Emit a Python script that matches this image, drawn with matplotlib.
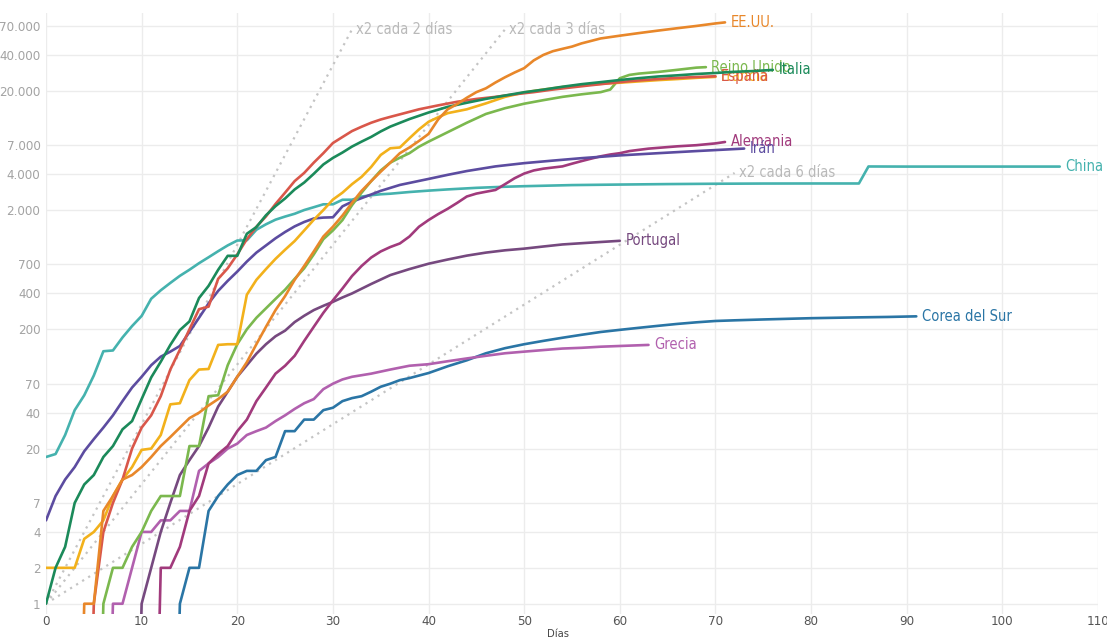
import numpy as np
import matplotlib
matplotlib.use("Agg")
import matplotlib.pyplot as plt

plt.rcParams['font.family'] = ['DejaVu Sans']
plt.rcParams['font.stretch'] = 'condensed'

# muertes acumuladas por país (eje x: días)
dias_china = [0, 1, 2, 3, 4, 5, 6, 7, 8, 9, 10, 11, 12, 13, 14, 15, 16, 17, 18, 19, 20, 21, 22, 23, 24, 25,
              26, 27, 28, 29, 30, 31, 32, 33, 34, 35, 36, 38, 40, 42, 45, 48, 50, 55, 60, 65, 70, 75, 80, 85,
              86, 90, 95, 100, 106]
muertes_china = [17, 18, 26, 42, 56, 82, 131, 133, 171, 213, 259, 361, 425, 490, 562, 632, 717, 804, 904, 1011,
                 1111, 1116, 1368, 1520, 1662, 1765, 1863, 2002, 2114, 2236, 2236, 2441, 2443, 2593, 2663, 2715,
                 2744, 2835, 2912, 2981, 3073, 3139, 3172, 3241, 3274, 3304, 3326, 3339, 3343, 3343,
                 4642, 4632, 4633, 4633, 4633]

dias_italia = [0, 1, 2, 3, 4, 5, 6, 7, 8, 9, 10, 11, 12, 13, 14, 15, 16, 17, 18, 19, 20, 21, 22, 23, 24, 25,
               26, 27, 28, 29, 30, 31, 32, 33, 34, 35, 36, 38, 40, 42, 44, 46, 48, 50, 52, 54, 56, 58, 60, 62,
               64, 66, 68, 70, 72, 74, 76]
muertes_italia = [1, 2, 3, 7, 10, 12, 17, 21, 29, 34, 52, 79, 107, 148, 197, 233, 366, 463, 631, 827, 827, 1266,
                  1441, 1809, 2158, 2503, 2978, 3405, 4032, 4825, 5476, 6077, 6820, 7503, 8215, 9134, 10023,
                  11591, 13155, 14681, 15887, 17127, 18279, 19468, 20465, 21645, 22745, 23660, 24648, 25549,
                  26384, 26977, 27682, 28236, 28884, 29315, 29958]

dias_iran = [0, 1, 2, 3, 4, 5, 6, 7, 8, 9, 10, 11, 12, 13, 14, 15, 16, 17, 18, 19, 20, 21, 22, 23, 24, 25, 26,
             27, 28, 29, 30, 31, 32, 33, 35, 37, 40, 42, 44, 47, 50, 53, 56, 60, 64, 68, 73]
muertes_iran = [5, 8, 11, 14, 19, 24, 30, 38, 50, 65, 80, 100, 118, 130, 145, 190, 250, 330, 420, 510, 610, 740,
                880, 1010, 1160, 1310, 1460, 1590, 1700, 1730, 1740, 2150, 2350, 2520, 2900, 3250, 3650, 3950,
                4250, 4650, 4950, 5200, 5450, 5750, 6000, 6250, 6560]

dias_eeuu = [3, 4, 5, 6, 7, 8, 9, 10, 11, 12, 13, 14, 15, 16, 17, 18, 19, 20, 21, 22, 23, 24, 25, 26, 27, 28,
             29, 30, 31, 32, 33, 34, 35, 36, 37, 38, 39, 40, 41, 42, 43, 44, 45, 46, 47, 48, 49, 50, 51, 52,
             53, 54, 55, 56, 58, 60, 62, 64, 66, 68, 70, 71]
muertes_eeuu = [0, 1, 1, 6, 8, 11, 12, 14, 17, 21, 25, 30, 36, 40, 46, 52, 60, 80, 106, 150, 210, 290, 380, 520,
                680, 900, 1200, 1450, 1800, 2300, 2900, 3500, 4200, 5000, 6000, 6700, 7600, 8700, 11500,
                14000, 15500, 17500, 19500, 21000, 23500, 26000, 28500, 31000, 36000, 40000, 43000, 45000,
                47000, 50000, 55000, 58000, 61000, 64000, 67000, 70000, 73500, 75000]

dias_espana = [4, 5, 6, 7, 8, 9, 10, 11, 12, 13, 14, 15, 16, 17, 18, 19, 20, 21, 22, 23, 24, 25, 26, 27, 28, 29,
               30, 31, 32, 33, 34, 35, 36, 37, 39, 41, 43, 45, 47, 49, 51, 53, 55, 57, 59, 61, 63, 65, 67, 69, 70]
muertes_espana = [0, 1, 4, 7, 11, 20, 30, 38, 55, 92, 135, 200, 295, 310, 530, 650, 850, 1140, 1450, 1770, 2250,
                  2800, 3500, 4100, 5000, 6000, 7300, 8200, 9200, 10000, 10800, 11500, 12100, 12700, 14000,
                  15100, 16200, 17100, 17800, 18700, 19500, 20500, 21400, 22300, 23200, 24100, 24800, 25400,
                  25900, 26300, 26500]

dias_francia = [0, 1, 2, 3, 4, 5, 6, 7, 8, 9, 10, 11, 12, 13, 14, 15, 16, 17, 18, 19, 20, 21, 22, 23, 24, 25,
                26, 27, 28, 29, 30, 31, 32, 33, 34, 35, 36, 37, 38, 39, 40, 41, 42, 44, 46, 48, 50, 52, 54, 56,
                58, 60, 62, 64, 66, 68, 70]
muertes_francia = [2, 2, 2, 2, 3.5, 4, 5, 8, 11, 14, 19.5, 20, 26, 47, 48, 75, 92, 93, 148, 150, 150, 390, 520,
                   640, 780, 930, 1100, 1350, 1660, 2000, 2450, 2800, 3300, 3800, 4600, 5800, 6600, 6700, 8000,
                   9500, 11000, 12000, 13000, 14000, 15700, 17800, 19400, 20500, 21500, 22300, 22900, 23400,
                   24000, 24600, 25100, 25700, 26200]

dias_reino_unido = [5, 6, 7, 8, 9, 10, 11, 12, 13, 14, 15, 16, 17, 18, 19, 20, 21, 22, 23, 24, 25, 26, 27, 28,
                    29, 30, 31, 32, 33, 34, 35, 36, 37, 38, 39, 40, 42, 44, 46, 48, 50, 52, 54, 56, 58, 59, 60,
                    61, 62, 64, 66, 68, 69]
muertes_reino_unido = [0, 1, 2, 2, 3, 4, 6, 8, 8, 8, 21, 21, 55, 56, 100, 150, 200, 250, 300, 360, 430, 530,
                       650, 850, 1140, 1350, 1650, 2200, 2800, 3500, 4300, 5000, 5500, 6000, 6800, 7500, 9000,
                       10800, 12800, 14300, 15600, 16700, 17800, 18700, 19500, 20500, 25500, 27200, 27900,
                       28800, 30000, 31300, 31600]

dias_alemania = [11, 12, 13, 14, 15, 16, 17, 18, 19, 20, 21, 22, 23, 24, 25, 26, 27, 28, 29, 30, 31, 32, 33, 34,
                 35, 36, 37, 38, 39, 40, 41, 42, 43, 44, 45, 46, 47, 48, 49, 50, 51, 52, 53, 54, 55, 56, 57, 58,
                 59, 60, 61, 62, 63, 64, 66, 68, 70, 71]
muertes_alemania = [0, 2, 2, 3, 6, 8, 15, 18, 21, 28, 35, 50, 65, 85, 99, 120, 160, 210, 275, 350, 440, 560, 680,
                    800, 900, 980, 1050, 1200, 1450, 1650, 1850, 2050, 2300, 2600, 2750, 2850, 2950, 3300, 3700,
                    4050, 4300, 4450, 4550, 4650, 4900, 5150, 5400, 5650, 5850, 6000, 6250, 6400, 6550, 6650,
                    6850, 7000, 7250, 7450]

dias_portugal = [9, 10, 11, 12, 13, 14, 15, 16, 17, 18, 19, 20, 21, 22, 23, 24, 25, 26, 27, 28, 29, 30, 31, 32,
                 34, 36, 38, 40, 42, 44, 46, 48, 50, 52, 54, 56, 58, 60]
muertes_portugal = [0, 1, 2, 4, 7, 12, 16, 21, 30, 45, 60, 80, 100, 125, 150, 175, 195, 230, 260, 290, 315, 340,
                    370, 400, 480, 570, 640, 710, 770, 830, 880, 920, 950, 990, 1030, 1055, 1080, 1105]

dias_grecia = [6, 7, 8, 9, 10, 11, 12, 13, 14, 15, 16, 17, 18, 19, 20, 21, 22, 23, 24, 25, 26, 27, 28, 29, 30,
               31, 32, 34, 36, 38, 40, 42, 44, 46, 48, 50, 52, 54, 56, 58, 60, 62, 63]
muertes_grecia = [0, 1, 1, 2, 4, 4, 5, 5, 6, 6, 13, 15, 17, 20, 22, 26, 28, 30, 34, 38, 43, 48, 52, 63, 70, 76,
                  80, 85, 92, 99, 102, 108, 114, 120, 126, 130, 134, 138, 140, 143, 145, 147, 148]

dias_corea = [13, 14, 15, 16, 17, 18, 19, 20, 21, 22, 23, 24, 25, 26, 27, 28, 29, 30, 31, 32, 33, 34, 35, 36,
              37, 38, 40, 42, 44, 46, 48, 50, 52, 54, 56, 58, 60, 62, 64, 66, 68, 70, 72, 75, 80, 85, 88, 91]
muertes_corea = [0, 1, 2, 2, 6, 8, 10, 12, 13, 13, 16, 17, 28, 28, 35, 35, 42, 44, 50, 53, 55, 60, 66, 70, 75,
                 78, 86, 98, 110, 126, 139, 150, 160, 170, 180, 190, 198, 206, 214, 222, 229, 235, 238, 242,
                 248, 252, 254, 257]

series = [
    ("China", dias_china, muertes_china, "#45b2ae"),
    ("Corea del Sur", dias_corea, muertes_corea, "#2a75a5"),
    ("Grecia", dias_grecia, muertes_grecia, "#b160ae"),
    ("Portugal", dias_portugal, muertes_portugal, "#76497f"),
    ("Alemania", dias_alemania, muertes_alemania, "#a13a7c"),
    ("Irán", dias_iran, muertes_iran, "#5c4ca0"),
    ("Reino Unido", dias_reino_unido, muertes_reino_unido, "#7bb84e"),
    ("Francia", dias_francia, muertes_francia, "#f2b11b"),
    ("España", dias_espana, muertes_espana, "#d9574a"),
    ("Italia", dias_italia, muertes_italia, "#1b8a5a"),
    ("EE.UU.", dias_eeuu, muertes_eeuu, "#e8872a"),
]

# líneas de referencia (duplicación)
guias = ["x2 cada 2 días", "x2 cada 3 días", "x2 cada 6 días"]
guias_dia_fin = [32, 48, 72]
guias_valor_fin = [65536, 65536, 4096]

ticks_y = [1, 2, 4, 7, 20, 40, 70, 200, 400, 700, 2000, 4000, 7000, 20000, 40000, 70000]
etiquetas_y = ["1", "2", "4", "7", "20", "40", "70", "200", "400", "700", "2.000", "4.000", "7.000",
               "20.000", "40.000", "70.000"]

fig = plt.figure(figsize=(11.07, 6.4), dpi=100)
ax = fig.add_axes([46 / 1107, 26 / 640, 1052 / 1107, 601 / 640])
ax.set_yscale("log")
ax.set_xlim(0, 110)
ax.set_ylim(0.82, 89900)

for nombre, fin_x, fin_y in zip(guias, guias_dia_fin, guias_valor_fin):
    ax.plot([0, fin_x], [1, fin_y], color="#c4c4c4", lw=1.6, linestyle=(0, (1, 2.2)), zorder=2)
    ax.annotate(nombre, (fin_x, fin_y), xytext=(3, 0), textcoords="offset points",
                va="center", ha="left", fontsize=10.5, color="#b9b9b9")

for nombre, x, y, color in series:
    y = np.array(y, dtype=float)
    y[y == 0] = 1e-3
    ax.plot(x, y, color=color, lw=1.9, zorder=3, solid_joinstyle="round", solid_capstyle="round")
    ax.annotate(nombre, (x[-1], y[-1]), xytext=(4, 0), textcoords="offset points",
                va="center", ha="left", fontsize=10.5, color=color)

ax.set_yticks(ticks_y)
ax.set_yticklabels(etiquetas_y)
ax.yaxis.set_minor_locator(matplotlib.ticker.NullLocator())
ax.set_xticks(range(0, 111, 10))
ax.tick_params(axis="y", length=0, labelsize=9.5, labelcolor="#a3a3a3", pad=4)
ax.tick_params(axis="x", length=0, labelsize=9.5, labelcolor="#555555", pad=1)
ax.grid(True, color="#ececec", lw=1)
ax.set_axisbelow(True)
for s in ax.spines.values():
    s.set_visible(False)
fig.text(558 / 1107, 6 / 640, "Días", fontsize=8, color="#444444", ha="center", va="center")

fig.savefig("out.png", dpi=100)
